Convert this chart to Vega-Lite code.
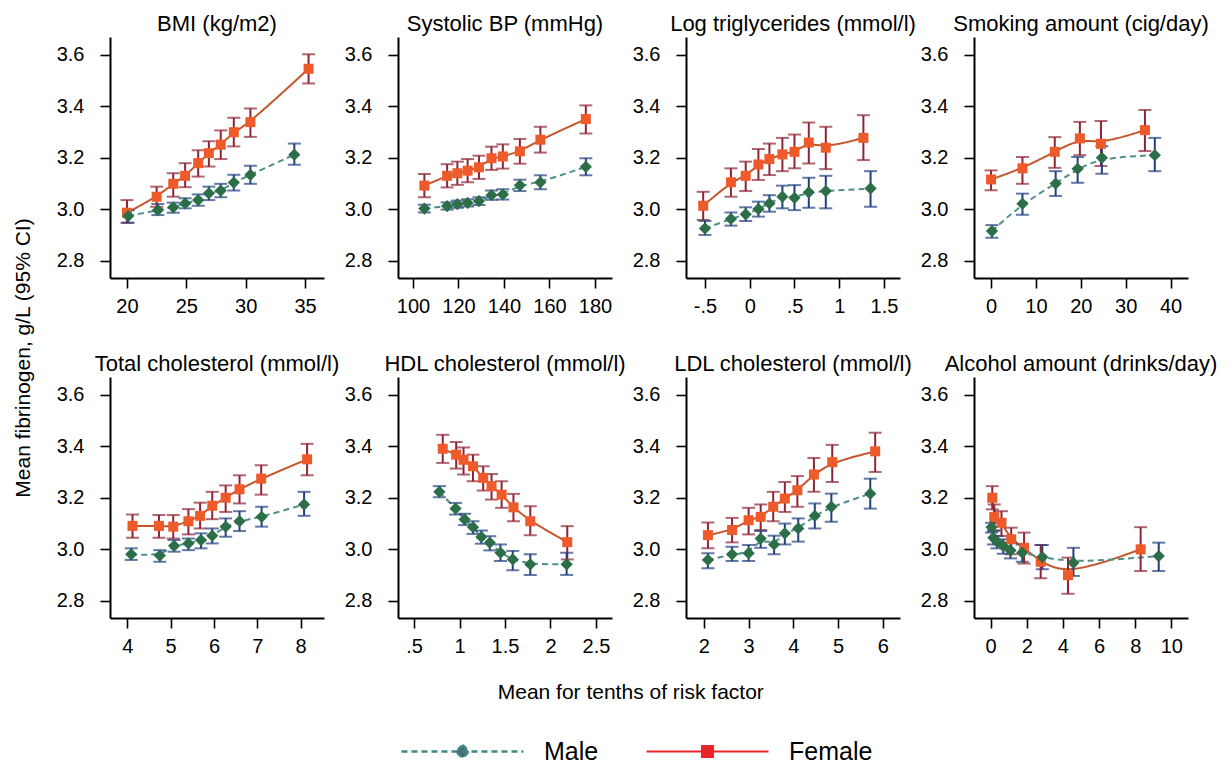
{
  "$schema": "https://vega.github.io/schema/vega-lite/v6.json",
  "padding": {"left": 13, "top": 13, "right": 0, "bottom": 0},
  "datasets": {
    "bmi": [
      {"sex": "Female", "x": 20.0, "mean": 2.987, "lo": 2.948, "hi": 3.036},
      {"sex": "Female", "x": 22.5, "mean": 3.049, "lo": 3.010, "hi": 3.088},
      {"sex": "Female", "x": 23.9, "mean": 3.099, "lo": 3.049, "hi": 3.140},
      {"sex": "Female", "x": 24.9, "mean": 3.130, "lo": 3.086, "hi": 3.179},
      {"sex": "Female", "x": 26.0, "mean": 3.179, "lo": 3.127, "hi": 3.229},
      {"sex": "Female", "x": 26.9, "mean": 3.218, "lo": 3.166, "hi": 3.264},
      {"sex": "Female", "x": 27.9, "mean": 3.251, "lo": 3.195, "hi": 3.306},
      {"sex": "Female", "x": 29.0, "mean": 3.299, "lo": 3.244, "hi": 3.355},
      {"sex": "Female", "x": 30.4, "mean": 3.338, "lo": 3.281, "hi": 3.391},
      {"sex": "Female", "x": 35.3, "mean": 3.545, "lo": 3.488, "hi": 3.601},
      {"sex": "Male", "x": 20.1, "mean": 2.974, "lo": 2.948, "hi": 2.997},
      {"sex": "Male", "x": 22.6, "mean": 2.997, "lo": 2.978, "hi": 3.021},
      {"sex": "Male", "x": 23.9, "mean": 3.008, "lo": 2.987, "hi": 3.026},
      {"sex": "Male", "x": 24.9, "mean": 3.023, "lo": 3.004, "hi": 3.043},
      {"sex": "Male", "x": 26.0, "mean": 3.036, "lo": 3.014, "hi": 3.058},
      {"sex": "Male", "x": 26.9, "mean": 3.062, "lo": 3.036, "hi": 3.088},
      {"sex": "Male", "x": 27.9, "mean": 3.073, "lo": 3.047, "hi": 3.099},
      {"sex": "Male", "x": 29.0, "mean": 3.104, "lo": 3.073, "hi": 3.134},
      {"sex": "Male", "x": 30.4, "mean": 3.134, "lo": 3.099, "hi": 3.169},
      {"sex": "Male", "x": 34.1, "mean": 3.212, "lo": 3.173, "hi": 3.255}
    ],
    "sbp": [
      {"sex": "Female", "x": 105, "mean": 3.092, "lo": 3.047, "hi": 3.137},
      {"sex": "Female", "x": 115, "mean": 3.130, "lo": 3.085, "hi": 3.175},
      {"sex": "Female", "x": 119.5, "mean": 3.140, "lo": 3.095, "hi": 3.185},
      {"sex": "Female", "x": 124, "mean": 3.150, "lo": 3.105, "hi": 3.195},
      {"sex": "Female", "x": 129, "mean": 3.163, "lo": 3.118, "hi": 3.208},
      {"sex": "Female", "x": 134.5, "mean": 3.198, "lo": 3.153, "hi": 3.243},
      {"sex": "Female", "x": 139.5, "mean": 3.205, "lo": 3.158, "hi": 3.252},
      {"sex": "Female", "x": 147, "mean": 3.225, "lo": 3.177, "hi": 3.273},
      {"sex": "Female", "x": 156, "mean": 3.270, "lo": 3.220, "hi": 3.320},
      {"sex": "Female", "x": 176, "mean": 3.350, "lo": 3.294, "hi": 3.403},
      {"sex": "Male", "x": 105, "mean": 3.003, "lo": 2.988, "hi": 3.018},
      {"sex": "Male", "x": 115, "mean": 3.013, "lo": 2.999, "hi": 3.027},
      {"sex": "Male", "x": 119.5, "mean": 3.020, "lo": 3.006, "hi": 3.034},
      {"sex": "Male", "x": 124, "mean": 3.025, "lo": 3.011, "hi": 3.039},
      {"sex": "Male", "x": 129, "mean": 3.032, "lo": 3.017, "hi": 3.047},
      {"sex": "Male", "x": 134.5, "mean": 3.055, "lo": 3.037, "hi": 3.073},
      {"sex": "Male", "x": 139.5, "mean": 3.058, "lo": 3.038, "hi": 3.078},
      {"sex": "Male", "x": 147, "mean": 3.093, "lo": 3.071, "hi": 3.115},
      {"sex": "Male", "x": 156, "mean": 3.105, "lo": 3.078, "hi": 3.132},
      {"sex": "Male", "x": 176, "mean": 3.165, "lo": 3.132, "hi": 3.198}
    ],
    "trig": [
      {"sex": "Female", "x": -0.52, "mean": 3.014, "lo": 2.959, "hi": 3.068},
      {"sex": "Female", "x": -0.21, "mean": 3.105, "lo": 3.049, "hi": 3.159},
      {"sex": "Female", "x": -0.045, "mean": 3.130, "lo": 3.071, "hi": 3.185},
      {"sex": "Female", "x": 0.097, "mean": 3.174, "lo": 3.114, "hi": 3.234},
      {"sex": "Female", "x": 0.22, "mean": 3.195, "lo": 3.133, "hi": 3.255},
      {"sex": "Female", "x": 0.365, "mean": 3.213, "lo": 3.148, "hi": 3.277},
      {"sex": "Female", "x": 0.5, "mean": 3.223, "lo": 3.159, "hi": 3.290},
      {"sex": "Female", "x": 0.66, "mean": 3.259, "lo": 3.178, "hi": 3.337},
      {"sex": "Female", "x": 0.85, "mean": 3.239, "lo": 3.156, "hi": 3.320},
      {"sex": "Female", "x": 1.27, "mean": 3.277, "lo": 3.191, "hi": 3.365},
      {"sex": "Male", "x": -0.5, "mean": 2.926, "lo": 2.901, "hi": 2.955},
      {"sex": "Male", "x": -0.21, "mean": 2.963, "lo": 2.937, "hi": 2.988},
      {"sex": "Male", "x": -0.045, "mean": 2.981, "lo": 2.955, "hi": 3.008},
      {"sex": "Male", "x": 0.097, "mean": 3.001, "lo": 2.972, "hi": 3.030},
      {"sex": "Male", "x": 0.22, "mean": 3.023, "lo": 2.991, "hi": 3.055},
      {"sex": "Male", "x": 0.365, "mean": 3.049, "lo": 3.004, "hi": 3.092},
      {"sex": "Male", "x": 0.5, "mean": 3.045, "lo": 2.997, "hi": 3.094},
      {"sex": "Male", "x": 0.66, "mean": 3.066, "lo": 3.006, "hi": 3.123},
      {"sex": "Male", "x": 0.85, "mean": 3.071, "lo": 3.004, "hi": 3.130},
      {"sex": "Male", "x": 1.35, "mean": 3.081, "lo": 3.010, "hi": 3.148}
    ],
    "smoke": [
      {"sex": "Female", "x": 0, "mean": 3.116, "lo": 3.074, "hi": 3.151},
      {"sex": "Female", "x": 7.0, "mean": 3.159, "lo": 3.099, "hi": 3.203},
      {"sex": "Female", "x": 14.2, "mean": 3.223, "lo": 3.161, "hi": 3.280},
      {"sex": "Female", "x": 19.8, "mean": 3.275, "lo": 3.210, "hi": 3.339},
      {"sex": "Female", "x": 24.5, "mean": 3.254, "lo": 3.168, "hi": 3.342},
      {"sex": "Female", "x": 34.3, "mean": 3.307, "lo": 3.226, "hi": 3.385},
      {"sex": "Male", "x": 0.2, "mean": 2.916, "lo": 2.890, "hi": 2.939},
      {"sex": "Male", "x": 7.0, "mean": 3.022, "lo": 2.979, "hi": 3.061},
      {"sex": "Male", "x": 14.4, "mean": 3.100, "lo": 3.052, "hi": 3.148},
      {"sex": "Male", "x": 19.3, "mean": 3.157, "lo": 3.103, "hi": 3.203},
      {"sex": "Male", "x": 24.7, "mean": 3.200, "lo": 3.138, "hi": 3.245},
      {"sex": "Male", "x": 36.5, "mean": 3.210, "lo": 3.148, "hi": 3.277}
    ],
    "tchol": [
      {"sex": "Female", "x": 4.12, "mean": 3.091, "lo": 3.045, "hi": 3.135},
      {"sex": "Female", "x": 4.73, "mean": 3.091, "lo": 3.045, "hi": 3.133},
      {"sex": "Female", "x": 5.06, "mean": 3.088, "lo": 3.042, "hi": 3.133},
      {"sex": "Female", "x": 5.41, "mean": 3.109, "lo": 3.058, "hi": 3.156},
      {"sex": "Female", "x": 5.68, "mean": 3.130, "lo": 3.081, "hi": 3.181},
      {"sex": "Female", "x": 5.96, "mean": 3.169, "lo": 3.117, "hi": 3.223},
      {"sex": "Female", "x": 6.27, "mean": 3.200, "lo": 3.145, "hi": 3.248},
      {"sex": "Female", "x": 6.59, "mean": 3.233, "lo": 3.178, "hi": 3.287},
      {"sex": "Female", "x": 7.09, "mean": 3.274, "lo": 3.212, "hi": 3.326},
      {"sex": "Female", "x": 8.15, "mean": 3.349, "lo": 3.287, "hi": 3.409},
      {"sex": "Male", "x": 4.09, "mean": 2.981, "lo": 2.959, "hi": 3.004},
      {"sex": "Male", "x": 4.75, "mean": 2.976, "lo": 2.952, "hi": 2.997},
      {"sex": "Male", "x": 5.08, "mean": 3.014, "lo": 2.991, "hi": 3.036},
      {"sex": "Male", "x": 5.41, "mean": 3.023, "lo": 2.997, "hi": 3.042},
      {"sex": "Male", "x": 5.70, "mean": 3.036, "lo": 3.004, "hi": 3.062},
      {"sex": "Male", "x": 5.96, "mean": 3.053, "lo": 3.023, "hi": 3.081},
      {"sex": "Male", "x": 6.27, "mean": 3.088, "lo": 3.049, "hi": 3.120},
      {"sex": "Male", "x": 6.59, "mean": 3.109, "lo": 3.071, "hi": 3.148},
      {"sex": "Male", "x": 7.10, "mean": 3.126, "lo": 3.088, "hi": 3.165},
      {"sex": "Male", "x": 8.08, "mean": 3.174, "lo": 3.130, "hi": 3.223}
    ],
    "hdl": [
      {"sex": "Female", "x": 0.815, "mean": 3.390, "lo": 3.335, "hi": 3.444},
      {"sex": "Female", "x": 0.963, "mean": 3.367, "lo": 3.313, "hi": 3.416},
      {"sex": "Female", "x": 1.044, "mean": 3.347, "lo": 3.290, "hi": 3.395},
      {"sex": "Female", "x": 1.148, "mean": 3.322, "lo": 3.264, "hi": 3.367},
      {"sex": "Female", "x": 1.26, "mean": 3.277, "lo": 3.228, "hi": 3.322},
      {"sex": "Female", "x": 1.352, "mean": 3.245, "lo": 3.193, "hi": 3.292},
      {"sex": "Female", "x": 1.463, "mean": 3.212, "lo": 3.161, "hi": 3.264},
      {"sex": "Female", "x": 1.593, "mean": 3.163, "lo": 3.109, "hi": 3.215},
      {"sex": "Female", "x": 1.778, "mean": 3.109, "lo": 3.055, "hi": 3.167},
      {"sex": "Female", "x": 2.185, "mean": 3.028, "lo": 2.961, "hi": 3.090},
      {"sex": "Male", "x": 0.778, "mean": 3.223, "lo": 3.202, "hi": 3.245},
      {"sex": "Male", "x": 0.956, "mean": 3.158, "lo": 3.135, "hi": 3.180},
      {"sex": "Male", "x": 1.056, "mean": 3.116, "lo": 3.094, "hi": 3.138},
      {"sex": "Male", "x": 1.148, "mean": 3.086, "lo": 3.060, "hi": 3.109},
      {"sex": "Male", "x": 1.24, "mean": 3.048, "lo": 3.022, "hi": 3.073},
      {"sex": "Male", "x": 1.333, "mean": 3.026, "lo": 2.996, "hi": 3.051},
      {"sex": "Male", "x": 1.45, "mean": 2.987, "lo": 2.955, "hi": 3.019},
      {"sex": "Male", "x": 1.585, "mean": 2.961, "lo": 2.919, "hi": 2.994},
      {"sex": "Male", "x": 1.778, "mean": 2.942, "lo": 2.901, "hi": 2.981},
      {"sex": "Male", "x": 2.178, "mean": 2.942, "lo": 2.901, "hi": 2.987}
    ],
    "ldl": [
      {"sex": "Female", "x": 2.09, "mean": 3.055, "lo": 3.004, "hi": 3.104},
      {"sex": "Female", "x": 2.63, "mean": 3.075, "lo": 3.027, "hi": 3.122},
      {"sex": "Female", "x": 3.0, "mean": 3.113, "lo": 3.058, "hi": 3.161},
      {"sex": "Female", "x": 3.27, "mean": 3.126, "lo": 3.075, "hi": 3.174},
      {"sex": "Female", "x": 3.55, "mean": 3.165, "lo": 3.109, "hi": 3.223},
      {"sex": "Female", "x": 3.81, "mean": 3.197, "lo": 3.145, "hi": 3.261},
      {"sex": "Female", "x": 4.09, "mean": 3.229, "lo": 3.165, "hi": 3.284},
      {"sex": "Female", "x": 4.46, "mean": 3.290, "lo": 3.223, "hi": 3.354},
      {"sex": "Female", "x": 4.87, "mean": 3.338, "lo": 3.261, "hi": 3.405},
      {"sex": "Female", "x": 5.83, "mean": 3.380, "lo": 3.300, "hi": 3.452},
      {"sex": "Male", "x": 2.09, "mean": 2.959, "lo": 2.927, "hi": 2.985},
      {"sex": "Male", "x": 2.63, "mean": 2.981, "lo": 2.955, "hi": 3.010},
      {"sex": "Male", "x": 3.0, "mean": 2.985, "lo": 2.955, "hi": 3.017},
      {"sex": "Male", "x": 3.27, "mean": 3.042, "lo": 3.006, "hi": 3.071},
      {"sex": "Male", "x": 3.57, "mean": 3.019, "lo": 2.981, "hi": 3.053},
      {"sex": "Male", "x": 3.81, "mean": 3.062, "lo": 3.019, "hi": 3.100},
      {"sex": "Male", "x": 4.11, "mean": 3.081, "lo": 3.030, "hi": 3.120},
      {"sex": "Male", "x": 4.48, "mean": 3.130, "lo": 3.081, "hi": 3.178},
      {"sex": "Male", "x": 4.85, "mean": 3.165, "lo": 3.107, "hi": 3.216},
      {"sex": "Male", "x": 5.72, "mean": 3.216, "lo": 3.158, "hi": 3.274}
    ],
    "alc": [
      {"sex": "Female", "x": 0.09, "mean": 3.200, "lo": 3.155, "hi": 3.245},
      {"sex": "Female", "x": 0.2, "mean": 3.125, "lo": 3.074, "hi": 3.174},
      {"sex": "Female", "x": 0.6, "mean": 3.103, "lo": 3.052, "hi": 3.148},
      {"sex": "Female", "x": 1.14, "mean": 3.039, "lo": 2.981, "hi": 3.084},
      {"sex": "Female", "x": 1.85, "mean": 3.006, "lo": 2.945, "hi": 3.065},
      {"sex": "Female", "x": 2.77, "mean": 2.952, "lo": 2.888, "hi": 3.017},
      {"sex": "Female", "x": 4.28, "mean": 2.900, "lo": 2.828, "hi": 2.968},
      {"sex": "Female", "x": 8.3, "mean": 3.000, "lo": 2.916, "hi": 3.086},
      {"sex": "Male", "x": 0.05, "mean": 3.086, "lo": 3.065, "hi": 3.103},
      {"sex": "Male", "x": 0.15, "mean": 3.045, "lo": 3.019, "hi": 3.071},
      {"sex": "Male", "x": 0.35, "mean": 3.030, "lo": 3.004, "hi": 3.052},
      {"sex": "Male", "x": 0.7, "mean": 3.013, "lo": 2.983, "hi": 3.039},
      {"sex": "Male", "x": 1.1, "mean": 2.996, "lo": 2.965, "hi": 3.026},
      {"sex": "Male", "x": 1.75, "mean": 2.987, "lo": 2.952, "hi": 3.019},
      {"sex": "Male", "x": 2.86, "mean": 2.970, "lo": 2.923, "hi": 3.017},
      {"sex": "Male", "x": 4.58, "mean": 2.948, "lo": 2.897, "hi": 3.006},
      {"sex": "Male", "x": 9.3, "mean": 2.974, "lo": 2.916, "hi": 3.026}
    ]
  },
  "vconcat": [
    {
      "title": {"text": "Mean fibrinogen, g/L (95% CI)", "orient": "left", "anchor": "middle", "fontSize": 21, "offset": 22},
      "vconcat": [
        {
          "title": {"text": "Mean for tenths of risk factor", "orient": "bottom", "anchor": "middle", "fontSize": 21, "offset": 26, "dx": -6},
          "columns": 4,
          "spacing": {"row": 99, "column": 74},
          "bounds": "flush",
          "concat": [
            {
              "title": "BMI (kg/m2)", "width": 214, "height": 241, "data": {"name": "bmi"},
              "encoding": {
                "x": {"field": "x", "type": "quantitative", "title": null, "scale": {"domain": [18.57, 36.6], "nice": false, "zero": false}, "axis": {"values": [20, 25, 30, 35]}},
                "y": {"field": "mean", "type": "quantitative", "title": null, "scale": {"domain": [2.734, 3.668], "nice": false, "zero": false}, "axis": {"values": [2.8, 3.0, 3.2, 3.4, 3.6], "format": ".1f"}}
              },
              "layer": [
                {"mark": {"type": "line", "interpolate": "basis"}, "encoding": {
                  "strokeDash": {"field": "sex", "type": "nominal", "scale": {"domain": ["Male", "Female"], "range": [[6, 4], [1, 0]]}, "legend": {"title": null, "orient": "none", "legendX": 340, "legendY": 702, "values": ["Male"], "symbolType": "M-6.1,0L6.1,0M0,-0.65L0.65,0L0,0.65L-0.65,0Z", "symbolStrokeColor": "#3f8a82", "symbolFillColor": "#4b6678"}},
                  "strokeWidth": {"field": "sex", "type": "nominal", "scale": {"domain": ["Female", "Male"], "range": [2, 2]}, "legend": {"title": null, "orient": "none", "legendX": 585, "legendY": 702, "values": ["Female"], "symbolType": "M-6.1,0L6.1,0M-0.55,-0.55L0.55,-0.55L0.55,0.55L-0.55,0.55Z", "symbolStrokeColor": "#e8262a", "symbolFillColor": "#e8262a"}},
                  "color": {"condition": {"test": "datum.sex === 'Male'", "value": "#4f8f8c"}, "value": "#c5552b"}}},
                {"mark": {"type": "errorbar", "ticks": true, "size": 13, "thickness": 2}, "encoding": {"y": {"field": "lo", "type": "quantitative", "title": null}, "y2": {"field": "hi"}, "color": {"condition": {"test": "datum.sex === 'Male'", "value": "#1f3f80"}, "value": "#8e2535"}}},
                {"mark": {"type": "point", "filled": true, "opacity": 1}, "encoding": {"shape": {"condition": {"test": "datum.sex === 'Male'", "value": "diamond"}, "value": "square"}, "size": {"condition": {"test": "datum.sex === 'Male'", "value": 150}, "value": 100}, "color": {"condition": {"test": "datum.sex === 'Male'", "value": "#2b6e48"}, "value": "#ee5a2a"}}}
              ]
            },
            {
              "title": "Systolic BP (mmHg)", "width": 214, "height": 241, "data": {"name": "sbp"},
              "encoding": {
                "x": {"field": "x", "type": "quantitative", "title": null, "scale": {"domain": [93.4, 187.5], "nice": false, "zero": false}, "axis": {"values": [100, 120, 140, 160, 180]}},
                "y": {"field": "mean", "type": "quantitative", "title": null, "scale": {"domain": [2.734, 3.668], "nice": false, "zero": false}, "axis": {"values": [2.8, 3.0, 3.2, 3.4, 3.6], "format": ".1f"}}
              },
              "layer": [
                {"mark": {"type": "line", "interpolate": "basis"}, "encoding": {
                  "strokeDash": {"field": "sex", "type": "nominal", "scale": {"domain": ["Male", "Female"], "range": [[6, 4], [1, 0]]}, "legend": {"title": null, "orient": "none", "legendX": 340, "legendY": 702, "values": ["Male"], "symbolType": "M-6.1,0L6.1,0M0,-0.65L0.65,0L0,0.65L-0.65,0Z", "symbolStrokeColor": "#3f8a82", "symbolFillColor": "#4b6678"}},
                  "strokeWidth": {"field": "sex", "type": "nominal", "scale": {"domain": ["Female", "Male"], "range": [2, 2]}, "legend": {"title": null, "orient": "none", "legendX": 585, "legendY": 702, "values": ["Female"], "symbolType": "M-6.1,0L6.1,0M-0.55,-0.55L0.55,-0.55L0.55,0.55L-0.55,0.55Z", "symbolStrokeColor": "#e8262a", "symbolFillColor": "#e8262a"}},
                  "color": {"condition": {"test": "datum.sex === 'Male'", "value": "#4f8f8c"}, "value": "#c5552b"}}},
                {"mark": {"type": "errorbar", "ticks": true, "size": 13, "thickness": 2}, "encoding": {"y": {"field": "lo", "type": "quantitative", "title": null}, "y2": {"field": "hi"}, "color": {"condition": {"test": "datum.sex === 'Male'", "value": "#1f3f80"}, "value": "#8e2535"}}},
                {"mark": {"type": "point", "filled": true, "opacity": 1}, "encoding": {"shape": {"condition": {"test": "datum.sex === 'Male'", "value": "diamond"}, "value": "square"}, "size": {"condition": {"test": "datum.sex === 'Male'", "value": 150}, "value": 100}, "color": {"condition": {"test": "datum.sex === 'Male'", "value": "#2b6e48"}, "value": "#ee5a2a"}}}
              ]
            },
            {
              "title": "Log triglycerides (mmol/l)", "width": 214, "height": 241, "data": {"name": "trig"},
              "encoding": {
                "x": {"field": "x", "type": "quantitative", "title": null, "scale": {"domain": [-0.712, 1.679], "nice": false, "zero": false}, "axis": {"values": [-0.5, 0, 0.5, 1, 1.5], "labelExpr": "datum.value === -0.5 ? '-.5' : datum.value === 0.5 ? '.5' : format(datum.value, '~g')"}},
                "y": {"field": "mean", "type": "quantitative", "title": null, "scale": {"domain": [2.734, 3.668], "nice": false, "zero": false}, "axis": {"values": [2.8, 3.0, 3.2, 3.4, 3.6], "format": ".1f"}}
              },
              "layer": [
                {"mark": {"type": "line", "interpolate": "basis"}, "encoding": {
                  "strokeDash": {"field": "sex", "type": "nominal", "scale": {"domain": ["Male", "Female"], "range": [[6, 4], [1, 0]]}, "legend": {"title": null, "orient": "none", "legendX": 340, "legendY": 702, "values": ["Male"], "symbolType": "M-6.1,0L6.1,0M0,-0.65L0.65,0L0,0.65L-0.65,0Z", "symbolStrokeColor": "#3f8a82", "symbolFillColor": "#4b6678"}},
                  "strokeWidth": {"field": "sex", "type": "nominal", "scale": {"domain": ["Female", "Male"], "range": [2, 2]}, "legend": {"title": null, "orient": "none", "legendX": 585, "legendY": 702, "values": ["Female"], "symbolType": "M-6.1,0L6.1,0M-0.55,-0.55L0.55,-0.55L0.55,0.55L-0.55,0.55Z", "symbolStrokeColor": "#e8262a", "symbolFillColor": "#e8262a"}},
                  "color": {"condition": {"test": "datum.sex === 'Male'", "value": "#4f8f8c"}, "value": "#c5552b"}}},
                {"mark": {"type": "errorbar", "ticks": true, "size": 13, "thickness": 2}, "encoding": {"y": {"field": "lo", "type": "quantitative", "title": null}, "y2": {"field": "hi"}, "color": {"condition": {"test": "datum.sex === 'Male'", "value": "#1f3f80"}, "value": "#8e2535"}}},
                {"mark": {"type": "point", "filled": true, "opacity": 1}, "encoding": {"shape": {"condition": {"test": "datum.sex === 'Male'", "value": "diamond"}, "value": "square"}, "size": {"condition": {"test": "datum.sex === 'Male'", "value": 150}, "value": 100}, "color": {"condition": {"test": "datum.sex === 'Male'", "value": "#2b6e48"}, "value": "#ee5a2a"}}}
              ]
            },
            {
              "title": "Smoking amount (cig/day)", "width": 214, "height": 241, "data": {"name": "smoke"},
              "encoding": {
                "x": {"field": "x", "type": "quantitative", "title": null, "scale": {"domain": [-3.8, 43.9], "nice": false, "zero": false}, "axis": {"values": [0, 10, 20, 30, 40]}},
                "y": {"field": "mean", "type": "quantitative", "title": null, "scale": {"domain": [2.734, 3.668], "nice": false, "zero": false}, "axis": {"values": [2.8, 3.0, 3.2, 3.4, 3.6], "format": ".1f"}}
              },
              "layer": [
                {"mark": {"type": "line", "interpolate": "basis"}, "encoding": {
                  "strokeDash": {"field": "sex", "type": "nominal", "scale": {"domain": ["Male", "Female"], "range": [[6, 4], [1, 0]]}, "legend": {"title": null, "orient": "none", "legendX": 340, "legendY": 702, "values": ["Male"], "symbolType": "M-6.1,0L6.1,0M0,-0.65L0.65,0L0,0.65L-0.65,0Z", "symbolStrokeColor": "#3f8a82", "symbolFillColor": "#4b6678"}},
                  "strokeWidth": {"field": "sex", "type": "nominal", "scale": {"domain": ["Female", "Male"], "range": [2, 2]}, "legend": {"title": null, "orient": "none", "legendX": 585, "legendY": 702, "values": ["Female"], "symbolType": "M-6.1,0L6.1,0M-0.55,-0.55L0.55,-0.55L0.55,0.55L-0.55,0.55Z", "symbolStrokeColor": "#e8262a", "symbolFillColor": "#e8262a"}},
                  "color": {"condition": {"test": "datum.sex === 'Male'", "value": "#4f8f8c"}, "value": "#c5552b"}}},
                {"mark": {"type": "errorbar", "ticks": true, "size": 13, "thickness": 2}, "encoding": {"y": {"field": "lo", "type": "quantitative", "title": null}, "y2": {"field": "hi"}, "color": {"condition": {"test": "datum.sex === 'Male'", "value": "#1f3f80"}, "value": "#8e2535"}}},
                {"mark": {"type": "point", "filled": true, "opacity": 1}, "encoding": {"shape": {"condition": {"test": "datum.sex === 'Male'", "value": "diamond"}, "value": "square"}, "size": {"condition": {"test": "datum.sex === 'Male'", "value": 150}, "value": 100}, "color": {"condition": {"test": "datum.sex === 'Male'", "value": "#2b6e48"}, "value": "#ee5a2a"}}}
              ]
            },
            {
              "title": "Total cholesterol (mmol/l)", "width": 214, "height": 241, "data": {"name": "tchol"},
              "encoding": {
                "x": {"field": "x", "type": "quantitative", "title": null, "scale": {"domain": [3.6, 8.54], "nice": false, "zero": false}, "axis": {"values": [4, 5, 6, 7, 8]}},
                "y": {"field": "mean", "type": "quantitative", "title": null, "scale": {"domain": [2.734, 3.668], "nice": false, "zero": false}, "axis": {"values": [2.8, 3.0, 3.2, 3.4, 3.6], "format": ".1f"}}
              },
              "layer": [
                {"mark": {"type": "line", "interpolate": "basis"}, "encoding": {
                  "strokeDash": {"field": "sex", "type": "nominal", "scale": {"domain": ["Male", "Female"], "range": [[6, 4], [1, 0]]}, "legend": {"title": null, "orient": "none", "legendX": 340, "legendY": 702, "values": ["Male"], "symbolType": "M-6.1,0L6.1,0M0,-0.65L0.65,0L0,0.65L-0.65,0Z", "symbolStrokeColor": "#3f8a82", "symbolFillColor": "#4b6678"}},
                  "strokeWidth": {"field": "sex", "type": "nominal", "scale": {"domain": ["Female", "Male"], "range": [2, 2]}, "legend": {"title": null, "orient": "none", "legendX": 585, "legendY": 702, "values": ["Female"], "symbolType": "M-6.1,0L6.1,0M-0.55,-0.55L0.55,-0.55L0.55,0.55L-0.55,0.55Z", "symbolStrokeColor": "#e8262a", "symbolFillColor": "#e8262a"}},
                  "color": {"condition": {"test": "datum.sex === 'Male'", "value": "#4f8f8c"}, "value": "#c5552b"}}},
                {"mark": {"type": "errorbar", "ticks": true, "size": 13, "thickness": 2}, "encoding": {"y": {"field": "lo", "type": "quantitative", "title": null}, "y2": {"field": "hi"}, "color": {"condition": {"test": "datum.sex === 'Male'", "value": "#1f3f80"}, "value": "#8e2535"}}},
                {"mark": {"type": "point", "filled": true, "opacity": 1}, "encoding": {"shape": {"condition": {"test": "datum.sex === 'Male'", "value": "diamond"}, "value": "square"}, "size": {"condition": {"test": "datum.sex === 'Male'", "value": 150}, "value": 100}, "color": {"condition": {"test": "datum.sex === 'Male'", "value": "#2b6e48"}, "value": "#ee5a2a"}}}
              ]
            },
            {
              "title": "HDL cholesterol (mmol/l)", "width": 214, "height": 241, "data": {"name": "hdl"},
              "encoding": {
                "x": {"field": "x", "type": "quantitative", "title": null, "scale": {"domain": [0.323, 2.677], "nice": false, "zero": false}, "axis": {"values": [0.5, 1, 1.5, 2, 2.5], "labelExpr": "datum.value === 0.5 ? '.5' : format(datum.value, '~g')"}},
                "y": {"field": "mean", "type": "quantitative", "title": null, "scale": {"domain": [2.734, 3.668], "nice": false, "zero": false}, "axis": {"values": [2.8, 3.0, 3.2, 3.4, 3.6], "format": ".1f"}}
              },
              "layer": [
                {"mark": {"type": "line", "interpolate": "basis"}, "encoding": {
                  "strokeDash": {"field": "sex", "type": "nominal", "scale": {"domain": ["Male", "Female"], "range": [[6, 4], [1, 0]]}, "legend": {"title": null, "orient": "none", "legendX": 340, "legendY": 702, "values": ["Male"], "symbolType": "M-6.1,0L6.1,0M0,-0.65L0.65,0L0,0.65L-0.65,0Z", "symbolStrokeColor": "#3f8a82", "symbolFillColor": "#4b6678"}},
                  "strokeWidth": {"field": "sex", "type": "nominal", "scale": {"domain": ["Female", "Male"], "range": [2, 2]}, "legend": {"title": null, "orient": "none", "legendX": 585, "legendY": 702, "values": ["Female"], "symbolType": "M-6.1,0L6.1,0M-0.55,-0.55L0.55,-0.55L0.55,0.55L-0.55,0.55Z", "symbolStrokeColor": "#e8262a", "symbolFillColor": "#e8262a"}},
                  "color": {"condition": {"test": "datum.sex === 'Male'", "value": "#4f8f8c"}, "value": "#c5552b"}}},
                {"mark": {"type": "errorbar", "ticks": true, "size": 13, "thickness": 2}, "encoding": {"y": {"field": "lo", "type": "quantitative", "title": null}, "y2": {"field": "hi"}, "color": {"condition": {"test": "datum.sex === 'Male'", "value": "#1f3f80"}, "value": "#8e2535"}}},
                {"mark": {"type": "point", "filled": true, "opacity": 1}, "encoding": {"shape": {"condition": {"test": "datum.sex === 'Male'", "value": "diamond"}, "value": "square"}, "size": {"condition": {"test": "datum.sex === 'Male'", "value": 150}, "value": 100}, "color": {"condition": {"test": "datum.sex === 'Male'", "value": "#2b6e48"}, "value": "#ee5a2a"}}}
              ]
            },
            {
              "title": "LDL cholesterol (mmol/l)", "width": 214, "height": 241, "data": {"name": "ldl"},
              "encoding": {
                "x": {"field": "x", "type": "quantitative", "title": null, "scale": {"domain": [1.6, 6.385], "nice": false, "zero": false}, "axis": {"values": [2, 3, 4, 5, 6]}},
                "y": {"field": "mean", "type": "quantitative", "title": null, "scale": {"domain": [2.734, 3.668], "nice": false, "zero": false}, "axis": {"values": [2.8, 3.0, 3.2, 3.4, 3.6], "format": ".1f"}}
              },
              "layer": [
                {"mark": {"type": "line", "interpolate": "basis"}, "encoding": {
                  "strokeDash": {"field": "sex", "type": "nominal", "scale": {"domain": ["Male", "Female"], "range": [[6, 4], [1, 0]]}, "legend": {"title": null, "orient": "none", "legendX": 340, "legendY": 702, "values": ["Male"], "symbolType": "M-6.1,0L6.1,0M0,-0.65L0.65,0L0,0.65L-0.65,0Z", "symbolStrokeColor": "#3f8a82", "symbolFillColor": "#4b6678"}},
                  "strokeWidth": {"field": "sex", "type": "nominal", "scale": {"domain": ["Female", "Male"], "range": [2, 2]}, "legend": {"title": null, "orient": "none", "legendX": 585, "legendY": 702, "values": ["Female"], "symbolType": "M-6.1,0L6.1,0M-0.55,-0.55L0.55,-0.55L0.55,0.55L-0.55,0.55Z", "symbolStrokeColor": "#e8262a", "symbolFillColor": "#e8262a"}},
                  "color": {"condition": {"test": "datum.sex === 'Male'", "value": "#4f8f8c"}, "value": "#c5552b"}}},
                {"mark": {"type": "errorbar", "ticks": true, "size": 13, "thickness": 2}, "encoding": {"y": {"field": "lo", "type": "quantitative", "title": null}, "y2": {"field": "hi"}, "color": {"condition": {"test": "datum.sex === 'Male'", "value": "#1f3f80"}, "value": "#8e2535"}}},
                {"mark": {"type": "point", "filled": true, "opacity": 1}, "encoding": {"shape": {"condition": {"test": "datum.sex === 'Male'", "value": "diamond"}, "value": "square"}, "size": {"condition": {"test": "datum.sex === 'Male'", "value": 150}, "value": 100}, "color": {"condition": {"test": "datum.sex === 'Male'", "value": "#2b6e48"}, "value": "#ee5a2a"}}}
              ]
            },
            {
              "title": "Alcohol amount (drinks/day)", "width": 214, "height": 241, "data": {"name": "alc"},
              "encoding": {
                "x": {"field": "x", "type": "quantitative", "title": null, "scale": {"domain": [-0.92, 10.92], "nice": false, "zero": false}, "axis": {"values": [0, 2, 4, 6, 8, 10]}},
                "y": {"field": "mean", "type": "quantitative", "title": null, "scale": {"domain": [2.734, 3.668], "nice": false, "zero": false}, "axis": {"values": [2.8, 3.0, 3.2, 3.4, 3.6], "format": ".1f"}}
              },
              "layer": [
                {"mark": {"type": "line", "interpolate": "basis"}, "encoding": {
                  "strokeDash": {"field": "sex", "type": "nominal", "scale": {"domain": ["Male", "Female"], "range": [[6, 4], [1, 0]]}, "legend": {"title": null, "orient": "none", "legendX": 340, "legendY": 702, "values": ["Male"], "symbolType": "M-6.1,0L6.1,0M0,-0.65L0.65,0L0,0.65L-0.65,0Z", "symbolStrokeColor": "#3f8a82", "symbolFillColor": "#4b6678"}},
                  "strokeWidth": {"field": "sex", "type": "nominal", "scale": {"domain": ["Female", "Male"], "range": [2, 2]}, "legend": {"title": null, "orient": "none", "legendX": 585, "legendY": 702, "values": ["Female"], "symbolType": "M-6.1,0L6.1,0M-0.55,-0.55L0.55,-0.55L0.55,0.55L-0.55,0.55Z", "symbolStrokeColor": "#e8262a", "symbolFillColor": "#e8262a"}},
                  "color": {"condition": {"test": "datum.sex === 'Male'", "value": "#4f8f8c"}, "value": "#c5552b"}}},
                {"mark": {"type": "errorbar", "ticks": true, "size": 13, "thickness": 2}, "encoding": {"y": {"field": "lo", "type": "quantitative", "title": null}, "y2": {"field": "hi"}, "color": {"condition": {"test": "datum.sex === 'Male'", "value": "#1f3f80"}, "value": "#8e2535"}}},
                {"mark": {"type": "point", "filled": true, "opacity": 1}, "encoding": {"shape": {"condition": {"test": "datum.sex === 'Male'", "value": "diamond"}, "value": "square"}, "size": {"condition": {"test": "datum.sex === 'Male'", "value": 150}, "value": 100}, "color": {"condition": {"test": "datum.sex === 'Male'", "value": "#2b6e48"}, "value": "#ee5a2a"}}}
              ]
            }
          ]
        }
      ]
    }
  ],
  "config": {
    "font": "Liberation Sans",
    "background": "white",
    "view": {"stroke": null},
    "axis": {"domainColor": "#000000", "domainWidth": 2, "tickColor": "#000000", "tickWidth": 1.6, "tickSize": 10, "labelFontSize": 20, "labelColor": "#000000", "grid": false, "labelOverlap": false, "labelFlush": false},
    "axisY": {"labelPadding": 16},
    "axisX": {"labelPadding": 8},
    "title": {"fontSize": 22, "fontWeight": "normal", "color": "#000000", "offset": 1},
    "legend": {"symbolSize": 400, "symbolStrokeWidth": 2.5, "labelFontSize": 25, "labelColor": "#000000", "labelOffset": 69, "padding": 0}
  }
}
